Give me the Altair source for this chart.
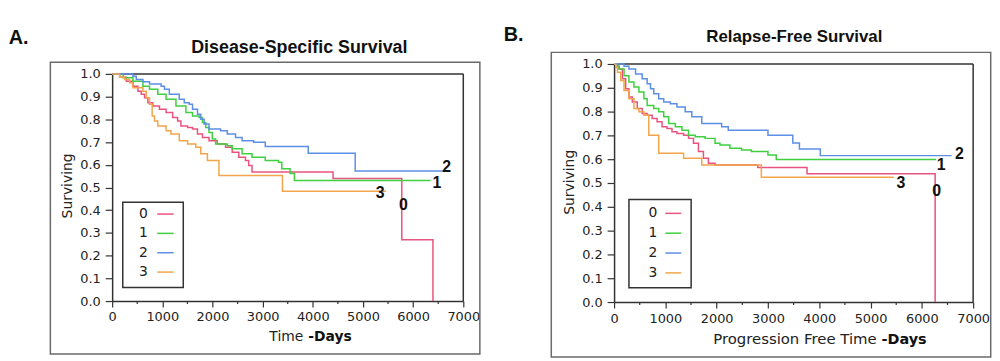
import altair as alt
import pandas as pd

# ---------------- data ----------------
groups = ["0", "1", "2", "3"]
colors = ["#e9537f", "#3fcf3f", "#5e8fe6", "#f2a54a"]
x_ticks = [0, 1000, 2000, 3000, 4000, 5000, 6000, 7000]
x_minor = [500, 1500, 2500, 3500, 4500, 5500, 6500]
y_ticks = [0.0, 0.1, 0.2, 0.3, 0.4, 0.5, 0.6, 0.7, 0.8, 0.9, 1.0]

# Disease-specific survival (panel A)
dss_t0 = [0, 150, 283, 415, 514, 580, 646, 712, 811, 943, 1075, 1206, 1305, 1371, 1503, 1602, 1701, 1800,
          1931, 2096, 2261, 2393, 2525, 2657, 2722, 2788, 4404, 5774, 6395]
dss_s0 = [1.0, 0.985, 0.968, 0.946, 0.924, 0.91, 0.895, 0.873, 0.859, 0.844, 0.83, 0.808, 0.793, 0.771, 0.764,
          0.757, 0.735, 0.72, 0.706, 0.691, 0.677, 0.655, 0.633, 0.619, 0.597, 0.568, 0.539, 0.27, 0.0]
dss_t1 = [0, 218, 415, 613, 745, 910, 1075, 1272, 1470, 1602, 1734, 1800, 1866, 1931, 1997, 2063, 2294, 2393,
          2591, 2788, 3052, 3316, 3382, 3547, 3633, 6348]
dss_s1 = [1.0, 0.983, 0.968, 0.946, 0.932, 0.91, 0.888, 0.859, 0.83, 0.815, 0.808, 0.786, 0.764, 0.742, 0.713,
          0.691, 0.684, 0.67, 0.648, 0.633, 0.619, 0.611, 0.582, 0.561, 0.531, 0.531]
dss_t2 = [0, 415, 481, 613, 745, 976, 1042, 1140, 1338, 1437, 1536, 1602, 1701, 1767, 1833, 1931, 2162, 2294,
          2459, 2591, 2821, 3052, 3909, 4845, 6612]
dss_s2 = [1.0, 0.99, 0.975, 0.965, 0.956, 0.946, 0.932, 0.91, 0.888, 0.873, 0.866, 0.844, 0.822, 0.8, 0.779,
          0.757, 0.75, 0.735, 0.72, 0.706, 0.699, 0.68, 0.651, 0.572, 0.572]
dss_t3 = [0, 150, 250, 349, 415, 613, 679, 745, 798, 844, 910, 1075, 1173, 1338, 1503, 1668, 1767, 1899, 2129,
          3395, 5458]
dss_s3 = [1.0, 0.985, 0.975, 0.961, 0.939, 0.924, 0.895, 0.866, 0.815, 0.793, 0.771, 0.75, 0.735, 0.706, 0.691,
          0.677, 0.648, 0.619, 0.553, 0.483, 0.483]
dss_label_t = [5808, 6474, 6668, 5343]
dss_label_s = [0.421, 0.518, 0.588, 0.475]

# Relapse-free survival (panel B)
rfs_t0 = [0, 65, 97, 161, 226, 290, 355, 452, 548, 645, 742, 839, 935, 1032, 1129, 1226, 1355, 1452, 1548,
          1645, 1742, 1839, 1968, 2800, 3762, 6259]
rfs_s0 = [1.0, 0.99, 0.979, 0.9375, 0.896, 0.861, 0.84, 0.8125, 0.792, 0.785, 0.771, 0.757, 0.736, 0.729,
          0.715, 0.708, 0.701, 0.6875, 0.667, 0.632, 0.604, 0.583, 0.576, 0.565, 0.539, 0.0]
rfs_t1 = [0, 65, 97, 194, 290, 387, 484, 581, 645, 774, 871, 968, 1065, 1194, 1323, 1452, 1581, 1774, 1968,
          2065, 2258, 2484, 2677, 3000, 3161, 6278]
rfs_s1 = [1.0, 0.99, 0.979, 0.951, 0.924, 0.903, 0.882, 0.854, 0.826, 0.813, 0.799, 0.778, 0.75, 0.736, 0.722,
          0.701, 0.694, 0.6875, 0.667, 0.66, 0.646, 0.639, 0.632, 0.618, 0.599, 0.599]
rfs_t2 = [0, 194, 290, 419, 548, 645, 710, 774, 871, 968, 1097, 1226, 1387, 1516, 1710, 2097, 2226, 3000,
          3484, 3613, 4020, 6580]
rfs_s2 = [1.0, 0.99, 0.979, 0.958, 0.938, 0.917, 0.896, 0.875, 0.854, 0.84, 0.833, 0.819, 0.799, 0.778, 0.75,
          0.736, 0.722, 0.701, 0.668, 0.643, 0.615, 0.615]
rfs_t3 = [0, 32, 65, 129, 194, 290, 387, 484, 581, 677, 871, 1355, 1710, 2871, 5452]
rfs_s3 = [1.0, 0.985, 0.965, 0.931, 0.889, 0.854, 0.8125, 0.799, 0.785, 0.701, 0.625, 0.604, 0.576, 0.524,
          0.524]
rfs_label_t = [6290, 6375, 6733, 5591]
rfs_label_s = [0.4675, 0.576, 0.622, 0.500]

AXIS_FONT = "DejaVu Sans"
DARK = "#333333"


def curves_df(ts, ss):
    rows = []
    for g, t_list, s_list in zip(groups, ts, ss):
        for i, (t, s) in enumerate(zip(t_list, s_list)):
            rows.append({"group": g, "t": t, "s": s, "i": i})
    return pd.DataFrame(rows)


def one():
    return pd.DataFrame({"k": [0]})


def panel(ts, ss, lab_t, lab_s, w, h, y_top, cfg):
    xenc = alt.X("t:Q", scale=alt.Scale(domain=[0, 7000], nice=False, zero=False),
                 axis=alt.Axis(values=x_ticks, format="d", title=None, grid=False,
                               labelFont=AXIS_FONT, labelFontSize=13, labelColor="#222",
                               tickColor=DARK, tickSize=6, tickWidth=1.2,
                               domainColor=DARK, domainWidth=1.5,
                               labelPadding=cfg["xpad"], labelFlush=False, labelOverlap=False))
    yenc = alt.Y("s:Q", scale=alt.Scale(domain=[0, 1], range=[h, y_top], nice=False, zero=False),
                 axis=alt.Axis(values=y_ticks, format=".1f", title=None, grid=False,
                               labelFont=AXIS_FONT, labelFontSize=13, labelColor="#222",
                               tickColor=DARK, tickSize=7, tickWidth=1.2,
                               domainColor=DARK, domainWidth=1.5,
                               labelPadding=5, labelFlush=False, labelOverlap=False))
    cenc = alt.Color("group:N", scale=alt.Scale(domain=groups, range=colors), legend=None)

    layers = []
    # outer frame
    fx1, fx2, fy1, fy2 = cfg["frame"]
    layers.append(alt.Chart(one()).mark_rect(fill=None, stroke="#6a6a6a", strokeWidth=1.5).encode(
        x=alt.value(fx1), x2=alt.value(fx2), y=alt.value(fy1), y2=alt.value(fy2)))
    # plot box top / right
    layers.append(alt.Chart(one()).mark_rule(color=DARK, strokeWidth=1.5).encode(
        x=alt.value(0), x2=alt.value(w), y=alt.value(y_top)))
    layers.append(alt.Chart(one()).mark_rule(color=DARK, strokeWidth=1.5).encode(
        x=alt.value(w), y=alt.value(y_top), y2=alt.value(h)))
    # minor ticks
    layers.append(alt.Chart(pd.DataFrame({"t": x_minor})).mark_rule(color=DARK, strokeWidth=1.2).encode(
        x=xenc, y=alt.value(h), y2=alt.value(h + 3)))
    # survival curves
    layers.append(alt.Chart(curves_df(ts, ss)).mark_line(interpolate="step-after", strokeWidth=1.5).encode(
        x=xenc, y=yenc, color=cenc, order="i:Q", detail="group:N"))
    # end labels
    layers.append(alt.Chart(pd.DataFrame({"t": lab_t, "s": lab_s, "g": groups})).mark_text(
        font="Liberation Sans", fontWeight="bold", fontSize=16, color="#111",
        align="center", baseline="middle").encode(x=xenc, y=yenc, text="g:N"))
    # legend box
    lx1, lx2, ly1, ly2 = cfg["legend_box"]
    layers.append(alt.Chart(one()).mark_rect(fill="white", stroke=DARK, strokeWidth=1.5).encode(
        x=alt.value(lx1), x2=alt.value(lx2), y=alt.value(ly1), y2=alt.value(ly2)))
    ldf = pd.DataFrame({"g": groups,
                        "ly": [cfg["row0"] + k * cfg["rowstep"] for k in range(len(groups))],
                        "lx": [cfg["label_x"]] * len(groups),
                        "l1": [cfg["line_x"][0]] * len(groups),
                        "l2": [cfg["line_x"][1]] * len(groups)})
    layers.append(alt.Chart(ldf).mark_text(font=AXIS_FONT, fontSize=14, color="#222", align="right",
                                           baseline="middle").encode(
        x=alt.X("lx:Q", scale=None), y=alt.Y("ly:Q", scale=None), text="g:N"))
    layers.append(alt.Chart(ldf).mark_rule(strokeWidth=1.5).encode(
        x=alt.X("l1:Q", scale=None), x2="l2:Q", y=alt.Y("ly:Q", scale=None),
        color=alt.Color("g:N", scale=alt.Scale(domain=groups, range=colors), legend=None)))
    # texts
    for txt, x, y, kw in cfg["texts"]:
        layers.append(alt.Chart(one()).mark_text(**kw).encode(
            x=alt.value(x), y=alt.value(y), text=alt.value(txt)))
    if cfg.get("anchor"):
        ax, ay = cfg["anchor"]
        layers.append(alt.Chart(one()).mark_rect(opacity=0).encode(
            x=alt.value(ax), x2=alt.value(ax + 1), y=alt.value(ay), y2=alt.value(ay + 1)))
    return alt.layer(*layers).properties(width=w, height=h)


bold_title = dict(font="Liberation Sans", fontWeight="bold", align="center", baseline="alphabetic",
                  color="#111")
big_letter = dict(font="Liberation Sans", fontWeight="bold", fontSize=20, align="left",
                  baseline="alphabetic", color="#111")
ytitle = dict(font=AXIS_FONT, fontSize=14, angle=270, align="center", baseline="middle", color="#222")

left_cfg = {
    "xpad": 4,
    "frame": (-62.3, 370.7, -1.7, 292.3),
    "legend_box": (10.7, 71.7, 139.3, 225.3),
    "row0": 151.3, "rowstep": 19.5, "label_x": 36, "line_x": (45.4, 62),
    "texts": [
        ("A.", -104.3, -19.7, big_letter),
        ("Disease-Specific Survival", 188.7, -11, dict(bold_title, fontSize=18)),
        ("Surviving", -44.3, 122.9, ytitle),
        ("Time", 192.7, 279.3, dict(font=AXIS_FONT, fontSize=14, align="right", baseline="alphabetic",
                                    color="#222")),
        ("-Days", 197.7, 279.3, dict(font=AXIS_FONT, fontWeight="bold", fontSize=14, align="left",
                                     baseline="alphabetic", color="#111")),
    ],
    "anchor": (-104.3, -54.7),
}
right_cfg = {
    "xpad": 5,
    "frame": (-63.3, 379.7, -11.7, 295.3),
    "legend_box": (15, 77.7, 136.6, 225.6),
    "row0": 150.6, "rowstep": 20, "label_x": 43.7, "line_x": (51.7, 67.7),
    "texts": [
        ("B.", -111.3, -23.4, big_letter),
        ("Relapse-Free Survival", 181.7, -22, dict(bold_title, fontSize=17)),
        ("Surviving", -44.8, 119.3, ytitle),
        ("Progression Free Time", 264.7, 282.3, dict(font=AXIS_FONT, fontSize=15, align="right",
                                                     baseline="alphabetic", color="#222")),
        ("-Days", 269.7, 282.3, dict(font=AXIS_FONT, fontWeight="bold", fontSize=14.5, align="left",
                                     baseline="alphabetic", color="#111")),
    ],
}

left = panel([dss_t0, dss_t1, dss_t2, dss_t3], [dss_s0, dss_s1, dss_s2, dss_s3],
             dss_label_t, dss_label_s, 354, 239, 10, left_cfg)
right = panel([rfs_t0, rfs_t1, rfs_t2, rfs_t3], [rfs_s0, rfs_s1, rfs_s2, rfs_s3],
              rfs_label_t, rfs_label_s, 362, 240, 0, right_cfg)

chart = alt.HConcatChart(hconcat=[left, right], spacing=152, bounds="flush").resolve_scale(
    x="independent", y="independent", color="independent"
).configure_view(stroke=None).properties(padding=0, background="white")

chart.save("out.html", embed_options={"renderer": "svg", "actions": False})
